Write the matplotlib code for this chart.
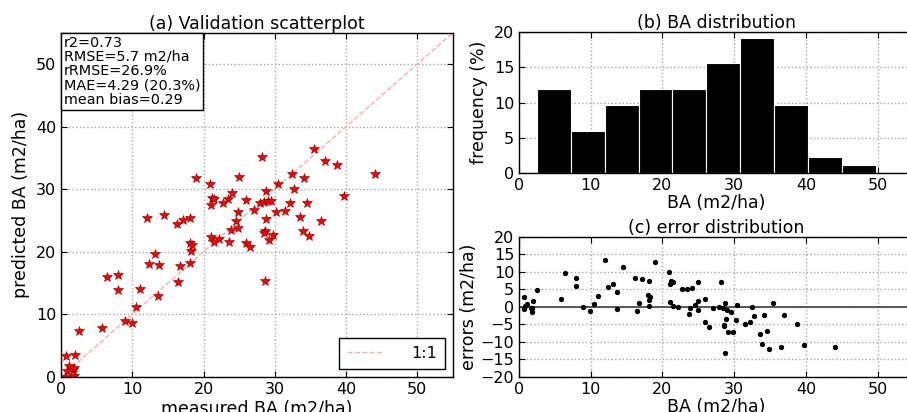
import numpy as np
import matplotlib
matplotlib.use("Agg")
import matplotlib.pyplot as plt
from matplotlib.offsetbox import AnchoredText

# ---------------- data ----------------
measured = [0.70, 1.92, 1.07, 0.79, 1.63, 1.82, 0.70, 1.77, 2.48, 5.80,
            8.93, 9.90, 10.47, 11.07, 6.45, 7.99, 7.99, 13.64, 16.45, 12.38,
            13.69, 13.13, 16.73, 18.10, 18.17,
            28.17, 18.97, 20.89, 24.99, 32.47, 30.42, 28.74, 32.76, 24.06, 21.21,
            21.40, 21.03, 23.41, 22.66, 25.98, 27.90, 28.46, 29.02, 29.53, 32.20,
            30.18, 31.49, 27.10, 24.90, 24.53, 24.90, 23.88, 28.83, 33.55, 28.64,
            28.55, 29.76, 29.16, 21.03, 22.15, 21.45, 23.64, 25.93, 26.54, 12.05,
            14.48, 16.21, 17.14, 18.13, 18.04, 18.32, 28.69,
            35.46, 37.00, 38.73, 44.00, 34.10, 39.76, 34.58, 36.54, 33.92, 34.80]
predicted = [3.35, 3.45, 1.75, 1.00, 1.12, 1.44, 0.05, 0.20, 7.28, 7.90,
             8.88, 8.56, 11.20, 14.00, 16.00, 16.27, 13.90, 12.97, 15.10, 18.08,
             17.92, 19.67, 17.80, 18.22, 20.20,
             35.20, 31.80, 30.83, 32.00, 32.50, 30.90, 29.67, 30.04, 29.35, 28.66,
             28.39, 27.49, 28.39, 27.75, 28.23, 27.86, 27.96, 28.12, 28.12, 27.86,
             26.37, 26.58, 26.69, 26.42, 24.99, 23.82, 23.44, 25.30, 25.62, 23.39,
             22.97, 22.65, 21.90, 22.33, 22.12, 21.58, 21.64, 21.48, 20.84, 25.36,
             25.89, 24.50, 25.15, 25.47, 21.48, 21.05, 15.36,
             36.47, 34.50, 33.86, 32.48, 31.84, 28.92, 27.75, 24.93, 23.34, 22.60]

stats_lines = ["r2=0.73", "RMSE=5.7 m2/ha", "rRMSE=26.9%",
               "MAE=4.29 (20.3%)", "mean bias=0.29"]

hist_edges = [2.46, 7.19, 11.93, 16.66, 21.39, 26.13, 30.86, 35.59, 40.33, 45.06, 49.80]
hist_freq = [12.0, 5.9, 9.6, 12.0, 12.0, 15.6, 19.2, 9.6, 2.3, 1.1]

ticks_x = [0, 10, 20, 30, 40, 50]

# ---------------- style ----------------
plt.rcParams.update({
    "font.family": ["DejaVu Sans"],
    "xtick.direction": "in",
    "ytick.direction": "in",
    "xtick.top": True,
    "ytick.right": True,
    "xtick.major.size": 4,
    "ytick.major.size": 4,
    "axes.linewidth": 1.0,
})

W, H = 907, 412
fig = plt.figure(figsize=(W / 100, H / 100), dpi=100)

def style_grid(ax):
    ax.grid(True, color="0.65", linestyle=":", linewidth=1.0)
    ax.set_axisbelow(True)

# (a) scatter
ax1 = fig.add_axes([61 / W, 1 - 377 / H, 392 / W, 344.3 / H])
style_grid(ax1)
ax1.plot([0, 55], [0, 55], linestyle="--", color="#ffaaaa", linewidth=1.0, label="1:1")
ax1.plot(measured, predicted, linestyle="none", marker="*", color="red",
         markersize=7.5, markeredgecolor="#7a0000", markeredgewidth=0.4)
ax1.set_xlim(0, 55)
ax1.set_ylim(0, 55)
ax1.set_xticks(ticks_x)
ax1.set_yticks(ticks_x)
ax1.tick_params(labelsize=11.5)
ax1.set_xlabel("measured BA (m2/ha)", fontsize=12.5, labelpad=2)
ax1.set_ylabel("predicted BA (m2/ha)", fontsize=12.5, labelpad=4)
ax1.set_title("(a) Validation scatterplot", fontsize=12.5, pad=3)
at = AnchoredText("\n".join(stats_lines), loc="upper left", frameon=True,
                  borderpad=0.0, pad=0.2, prop=dict(size=10.4, linespacing=1.03))
at.patch.set_boxstyle("square,pad=0")
at.patch.set_linewidth(1.0)
ax1.add_artist(at)
leg = ax1.legend(loc="lower right", fontsize=11.5, fancybox=False,
                 handlelength=2.2, handletextpad=1.8, borderpad=0.5,
                 framealpha=1.0, edgecolor="black")
leg.get_frame().set_linewidth(1.0)

# (b) histogram
ax2 = fig.add_axes([519 / W, 1 - 173 / H, 394.6 / W, 140.7 / H])
style_grid(ax2)
widths = np.diff(hist_edges)
ax2.bar(hist_edges[:-1], hist_freq, width=widths, align="edge",
        color="black", edgecolor="white", linewidth=0.8)
ax2.set_xlim(0, 55)
ax2.set_ylim(0, 20)
ax2.set_xticks(ticks_x)
ax2.set_yticks([0, 5, 10, 15, 20])
ax2.tick_params(labelsize=11.5)
ax2.set_xlabel("BA (m2/ha)", fontsize=12.5, labelpad=1)
ax2.set_ylabel("frequency (%)", fontsize=12.5, labelpad=4)
ax2.set_title("(b) BA distribution", fontsize=12.5, pad=3)

# (c) error distribution
ax3 = fig.add_axes([519 / W, 1 - 376.7 / H, 394.6 / W, 140 / H])
style_grid(ax3)
errors = np.array(predicted) - np.array(measured)
ax3.axhline(0, color="0.25", linewidth=1.2)
ax3.plot(measured, errors, linestyle="none", marker="o", color="black", markersize=2.8)
ax3.set_xlim(0, 55)
ax3.set_ylim(-20, 20)
ax3.set_xticks(ticks_x)
ax3.set_yticks([-20, -15, -10, -5, 0, 5, 10, 15, 20])
ax3.tick_params(labelsize=11.5)
ax3.set_xlabel("BA (m2/ha)", fontsize=12.5, labelpad=1)
ax3.set_ylabel("errors (m2/ha)", fontsize=12.5, labelpad=2)
ax3.set_title("(c) error distribution", fontsize=12.5, pad=3)

fig.savefig("out.png", dpi=100, facecolor="white")
